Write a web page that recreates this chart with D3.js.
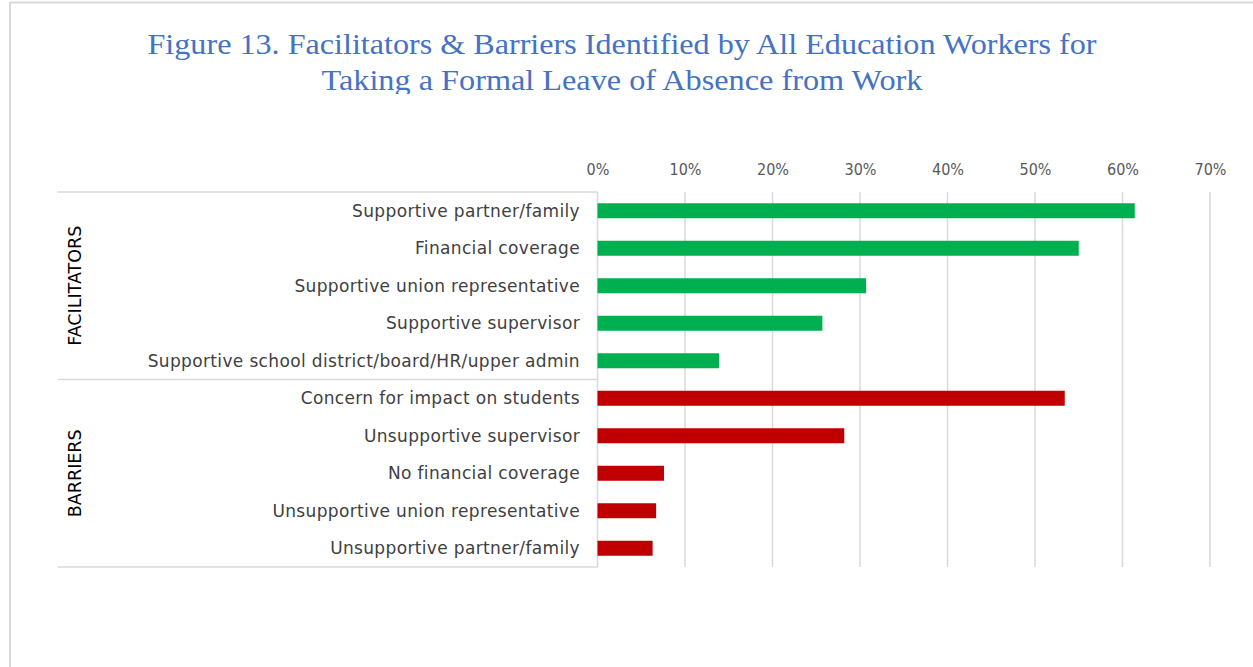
<!DOCTYPE html>
<html><head><meta charset="utf-8">
<script src="https://cdn.jsdelivr.net/npm/d3@7"></script>
<style>body{margin:0;background:#fff;}svg{display:block;}</style>
</head><body>
<svg id="c" width="1253" height="667"></svg>
<script>
const categories = [
  "Supportive partner/family",
  "Financial coverage",
  "Supportive union representative",
  "Supportive supervisor",
  "Supportive school district/board/HR/upper admin",
  "Concern for impact on students",
  "Unsupportive supervisor",
  "No financial coverage",
  "Unsupportive union representative",
  "Unsupportive partner/family"
];
const values = [61.4, 55.0, 30.7, 25.7, 13.9, 53.4, 28.2, 7.6, 6.7, 6.3];
const groups = ["FACILITATORS","FACILITATORS","FACILITATORS","FACILITATORS","FACILITATORS","BARRIERS","BARRIERS","BARRIERS","BARRIERS","BARRIERS"];
const groupNames = ["FACILITATORS","BARRIERS"];
const groupColors = {FACILITATORS:"#00B050", BARRIERS:"#C00000"};
const tickValues = [0,10,20,30,40,50,60,70];
const titleLines = ["Figure 13. Facilitators & Barriers Identified by All Education Workers for","Taking a Formal Leave of Absence from Work"];
const titleWidths = [949, 601];

(function(){
const svg = d3.select("#c");
svg.append("line").attr("x1",10).attr("x2",1253).attr("y1",2.5).attr("y2",2.5).attr("stroke","#d9d9d9").attr("stroke-width",2);
svg.append("line").attr("x1",10).attr("x2",10).attr("y1",2).attr("y2",667).attr("stroke","#d9d9d9").attr("stroke-width",2);

svg.append("defs").append("clipPath").attr("id","tclip").append("rect").attr("x",0).attr("y",0).attr("width",1253).attr("height",94);
const tg = svg.append("g").attr("clip-path","url(#tclip)");
titleLines.forEach((t,i)=>{
  tg.append("text").attr("x",622).attr("y",54+i*36).attr("text-anchor","middle")
    .attr("font-family","'Liberation Serif','Times New Roman',serif").attr("font-size",30)
    .attr("textLength",titleWidths[i]).attr("lengthAdjust","spacingAndGlyphs")
    .attr("fill","#4472C4").text(t);
});

const pL=597.5, pR=1210, pT=192, pB=567;
const x = d3.scaleLinear().domain([0,70]).range([pL,pR]);
const y = d3.scaleBand().domain(categories).range([pT,pB]).paddingInner(0.6).paddingOuter(0.3);

svg.append("g").selectAll("line").data(tickValues.slice(1)).join("line")
  .attr("x1",d=>x(d)).attr("x2",d=>x(d)).attr("y1",pT).attr("y2",pB)
  .attr("stroke","#d9d9d9").attr("stroke-width",1.5);

const ax = svg.append("g").attr("transform",`translate(0,${pT})`)
  .call(d3.axisTop(x).tickValues(tickValues).tickFormat(d=>d+"%").tickSize(0).tickPadding(17));
ax.select(".domain").remove();
ax.selectAll("text").attr("font-family","'DejaVu Sans Condensed','DejaVu Sans',sans-serif").attr("font-size",16).attr("fill","#595959");

const rowH = (pB-pT)/categories.length;
const sepY = [pT, pT+rowH*5, pB];
sepY.forEach(v=>{
  svg.append("line").attr("x1",58).attr("x2",pL).attr("y1",v).attr("y2",v).attr("stroke","#d9d9d9").attr("stroke-width",1.5);
});
svg.append("line").attr("x1",pL).attr("x2",pL).attr("y1",pT).attr("y2",pB).attr("stroke","#d9d9d9").attr("stroke-width",1.5);

svg.append("g").selectAll("rect").data(categories).join("rect")
  .attr("x",x(0)).attr("y",d=>y(d)).attr("height",y.bandwidth())
  .attr("width",(d,i)=>x(values[i])-x(0))
  .attr("fill",(d,i)=>groupColors[groups[i]]);

svg.append("g").selectAll("text").data(categories).join("text")
  .attr("x",580).attr("y",d=>y(d)+y.bandwidth()/2).attr("dy","0.35em")
  .attr("text-anchor","end").attr("font-family","'DejaVu Sans',sans-serif")
  .attr("font-size",17).attr("letter-spacing",0.35).attr("fill","#404040").text(d=>d);

groupNames.forEach((g,i)=>{
  const cy = (sepY[i]+sepY[i+1])/2;
  svg.append("text").attr("transform",`translate(81,${cy}) rotate(-90)`).attr("text-anchor","middle")
    .attr("font-family","'DejaVu Sans',sans-serif").attr("font-size",17.5)
    .attr("fill","#000").text(g);
});
})();
</script>
</body></html>
